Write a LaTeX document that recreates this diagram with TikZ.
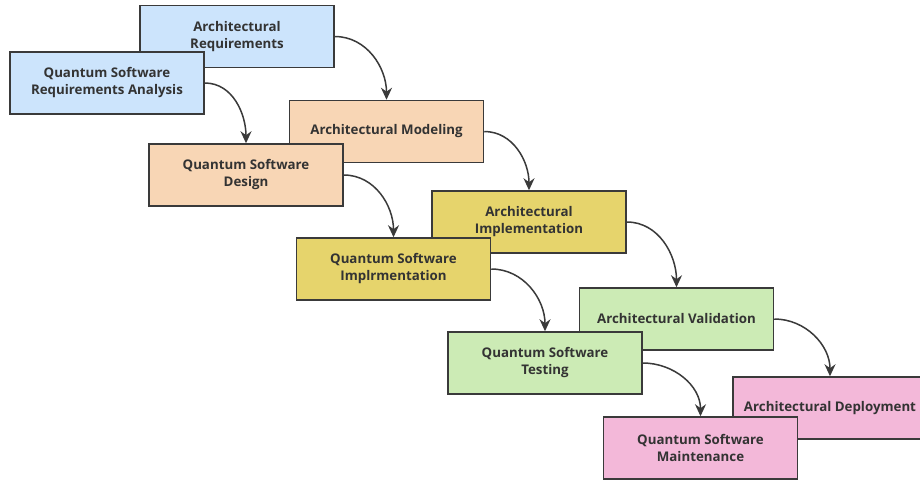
\documentclass[tikz,border=0pt]{standalone}
\usepackage{fontspec}
\setmainfont{Open Sans}
\usetikzlibrary{arrows.meta}
\definecolor{cblue}{HTML}{CCE4FC}
\definecolor{cpeach}{HTML}{F8D6B5}
\definecolor{cyellow}{HTML}{E6D46C}
\definecolor{cgreen}{HTML}{CCEBB5}
\definecolor{cpink}{HTML}{F3B8D9}
\definecolor{cline}{HTML}{3A3A3A}
\definecolor{ctext}{HTML}{333333}
\begin{document}
\begin{tikzpicture}[x=1pt,y=-1pt,
  stage/.style={draw=cline, line width=1.5pt, minimum width=194pt, minimum height=62pt,
    inner sep=0pt, align=center, text=ctext, font=\fontsize{13.3}{17}\selectfont\bfseries},
  flow/.style={draw=cline, line width=1.5pt, -{Stealth[length=12pt,width=11pt]}, out=0, in=90}]
\useasboundingbox (0,0) rectangle (920,482);
\clip (0,0) rectangle (920,482);
\fill[white] (0,0) rectangle (920,482);
\node[stage, fill=cblue] (ar) at (237,36.5) {Architectural\\Requirements};
\node[stage, fill=cblue] (qsra) at (107,83) {Quantum Software\\Requirements Analysis};
\node[stage, fill=cpeach] (am) at (386.5,131.5) {Architectural Modeling};
\node[stage, fill=cpeach] (qsd) at (246,175) {Quantum Software\\Design};
\node[stage, fill=cyellow] (ai) at (529,222) {Architectural\\Implementation};
\node[stage, fill=cyellow] (qsi) at (393.5,269) {Quantum Software\\Implrmentation};
\node[stage, fill=cgreen] (av) at (676.5,319) {Architectural Validation};
\node[stage, fill=cgreen] (qst) at (545,363) {Quantum Software\\Testing};
\node[stage, fill=cpink] (ad) at (830,408) {Architectural Deployment};
\node[stage, fill=cpink] (qsm) at (700.5,448) {Quantum Software\\Maintenance};
\draw[flow] (ar.east) to (am.north);
\draw[flow] (qsra.east) to (qsd.north);
\draw[flow] (am.east) to (ai.north);
\draw[flow] (qsd.east) to (qsi.north);
\draw[flow] (ai.east) to (av.north);
\draw[flow] (qsi.east) to (qst.north);
\draw[flow] (av.east) to (ad.north);
\draw[flow] (qst.east) to (qsm.north);
\end{tikzpicture}
\end{document}
